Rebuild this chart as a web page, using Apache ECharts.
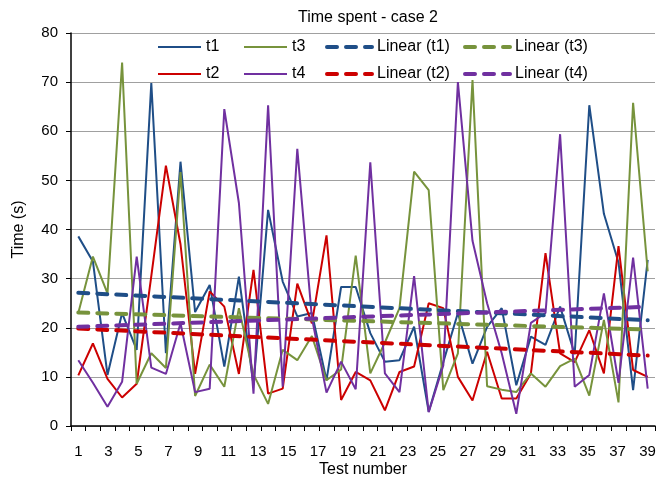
<!DOCTYPE html>
<html><head><meta charset="utf-8">
<script src="https://cdn.jsdelivr.net/npm/echarts@6/dist/echarts.min.js"></script>
<style>html,body{margin:0;padding:0;background:#fff}#c{width:669px;height:481px}</style>
</head><body><div id="c"></div>
<script>
const categories = ['1','2','3','4','5','6','7','8','9','10','11','12','13','14','15','16','17','18','19','20',
  '21','22','23','24','25','26','27','28','29','30','31','32','33','34','35','36','37','38','39','40'];
const tickLabels = ['1','2','3','4','5','6','7','8','9','10','11','12','13','14','15','16','17','18','19','20',
  '21','22','23','24','25','26','27','28','29','30','31','32','33','34','35','36','37','38','39'];
const t1 = [38.6, 33.5, 10.4, 23.0, 15.5, 69.8, 14.8, 53.8, 23.2, 28.7, 12.1, 30.4, 8.3, 44.0, 29.4, 22.3, 23.0, 9.3, 28.3, 28.3,
  18.9, 13.1, 13.4, 20.2, 2.9, 13.0, 23.0, 12.7, 20.2, 24.0, 8.3, 18.2, 16.5, 24.3, 14.6, 65.3, 43.2, 33.3, 7.3, 33.8];
const t2 = [10.3, 16.8, 9.6, 5.8, 8.6, 30.5, 53.0, 37.0, 10.6, 27.4, 24.3, 10.6, 31.8, 6.6, 7.6, 29.0, 20.9, 38.8, 5.3, 11.0,
  9.3, 3.2, 11.0, 12.1, 25.0, 24.0, 10.0, 5.2, 15.1, 5.6, 5.6, 10.7, 35.2, 14.8, 13.0, 19.5, 10.7, 36.6, 11.4, 10.0];
const t3 = [23.0, 34.5, 27.0, 74.0, 8.6, 14.8, 11.8, 51.7, 6.1, 12.5, 8.0, 24.0, 10.5, 4.5, 15.5, 13.4, 18.3, 9.3, 11.5, 34.7,
  10.7, 17.0, 24.0, 51.8, 48.0, 7.3, 14.8, 70.4, 8.1, 7.4, 6.9, 10.7, 8.0, 12.2, 13.7, 6.2, 21.6, 4.8, 65.8, 31.5];
const t4 = [13.4, 8.8, 3.9, 9.0, 34.5, 11.9, 10.6, 20.9, 6.9, 7.6, 64.5, 45.4, 6.6, 65.3, 8.0, 56.4, 22.0, 6.8, 13.1, 7.5,
  53.7, 10.7, 6.9, 30.5, 2.8, 12.3, 70.0, 37.7, 25.0, 14.8, 2.5, 21.0, 23.0, 59.4, 8.0, 10.4, 27.0, 8.8, 34.3, 7.6];
const seriesNames = ['t1','t2','t3','t4'];
const trendNames = ['Linear (t1)','Linear (t2)','Linear (t3)','Linear (t4)'];
const colors = ['#1F4E87','#CC0000','#77933C','#7030A0'];

// least-squares linear trend, evaluated at first and last category
function trend(arr){
  const n = arr.length; let sx=0, sy=0, sxx=0, sxy=0;
  arr.forEach((y,i)=>{const x=i+1; sx+=x; sy+=y; sxx+=x*x; sxy+=x*y;});
  const b = (n*sxy - sx*sy)/(n*sxx - sx*sx);
  const a = (sy - b*sx)/n;
  return arr.map((_,i)=> (i===0 || i===n-1) ? +(a + b*(i+1)).toFixed(3) : null);
}

const font = 'Liberation Sans, Arial, sans-serif';
const dataSets = [t1,t2,t3,t4];
const series = [];
dataSets.forEach((d,k)=>{
  series.push({name: seriesNames[k], type:'line', xAxisIndex:0, data:d, symbol:'none', z:2+k,
    lineStyle:{width:2, color:colors[k]}, itemStyle:{color:colors[k]}, emphasis:{disabled:true}});
});
dataSets.forEach((d,k)=>{
  series.push({name: trendNames[k], type:'line', xAxisIndex:0, data:trend(d), connectNulls:true, symbol:'none', z:10+k,
    lineStyle:{width:4, type:[10,9], cap:'round', color:colors[k]}, itemStyle:{color:colors[k]}, emphasis:{disabled:true}});
});

const legendText = {fontFamily:font, fontSize:16, color:'#000'};
const hiddenSymbol = {opacity:0, color:'rgba(0,0,0,0)', borderWidth:0};
function legendCol(left, names, w, lw){
  return {left:left, top:39, padding:0, orient:'vertical', itemWidth:w, itemHeight:14, itemGap:11, selectedMode:false,
    data:names, textStyle:legendText, lineStyle:{width:lw}, itemStyle:hiddenSymbol};
}
const chart = echarts.init(document.getElementById('c'), null, {renderer:'canvas'});
chart.setOption({
  animation:false,
  backgroundColor:'#fff',
  title:{text:'Time spent - case 2', left:363, top:5, textAlign:'center',
    textStyle:{fontFamily:font, fontSize:16, fontWeight:'normal', color:'#000'}},
  grid:{left:71, top:33, right:14, bottom:55, containLabel:false, outerBoundsMode:'none'},
  legend:[
    legendCol(157, ['t1','t2'], 43, 2),
    legendCol(243, ['t3','t4'], 43, 2),
    legendCol(325, ['Linear (t1)','Linear (t2)'], 45, 4),
    legendCol(463, ['Linear (t3)','Linear (t4)'], 45, 4)
  ],
  xAxis:[
    {type:'category', data:categories, boundaryGap:true, position:'bottom',
      name:'Test number', nameLocation:'middle', nameGap:36,
      nameTextStyle:{fontFamily:font, fontSize:16, color:'#000'},
      axisLine:{show:true, lineStyle:{color:'#000', width:1.5}},
      axisTick:{show:true, interval:0, length:5, lineStyle:{color:'#000', width:1}},
      axisLabel:{show:false},
      splitLine:{show:false}},
    {type:'category', data:tickLabels, boundaryGap:true, position:'bottom', offset:0,
      axisLine:{show:false}, axisTick:{show:false},
      axisLabel:{interval:1, margin:18, fontFamily:font, fontSize:15, color:'#000'},
      splitLine:{show:false}}
  ],
  yAxis:{type:'value', min:0, max:80, interval:10,
    name:'Time (s)', nameLocation:'middle', nameGap:44, nameRotate:90,
    nameTextStyle:{fontFamily:font, fontSize:16, color:'#000'},
    axisLine:{show:true, lineStyle:{color:'#000', width:1.5}},
    axisTick:{show:true, length:5, lineStyle:{color:'#000', width:1}},
    axisLabel:{margin:13, fontFamily:font, fontSize:15, color:'#000'},
    splitLine:{show:true, lineStyle:{color:'#A0A0A0', width:1}}},
  series: series
});
</script></body></html>
